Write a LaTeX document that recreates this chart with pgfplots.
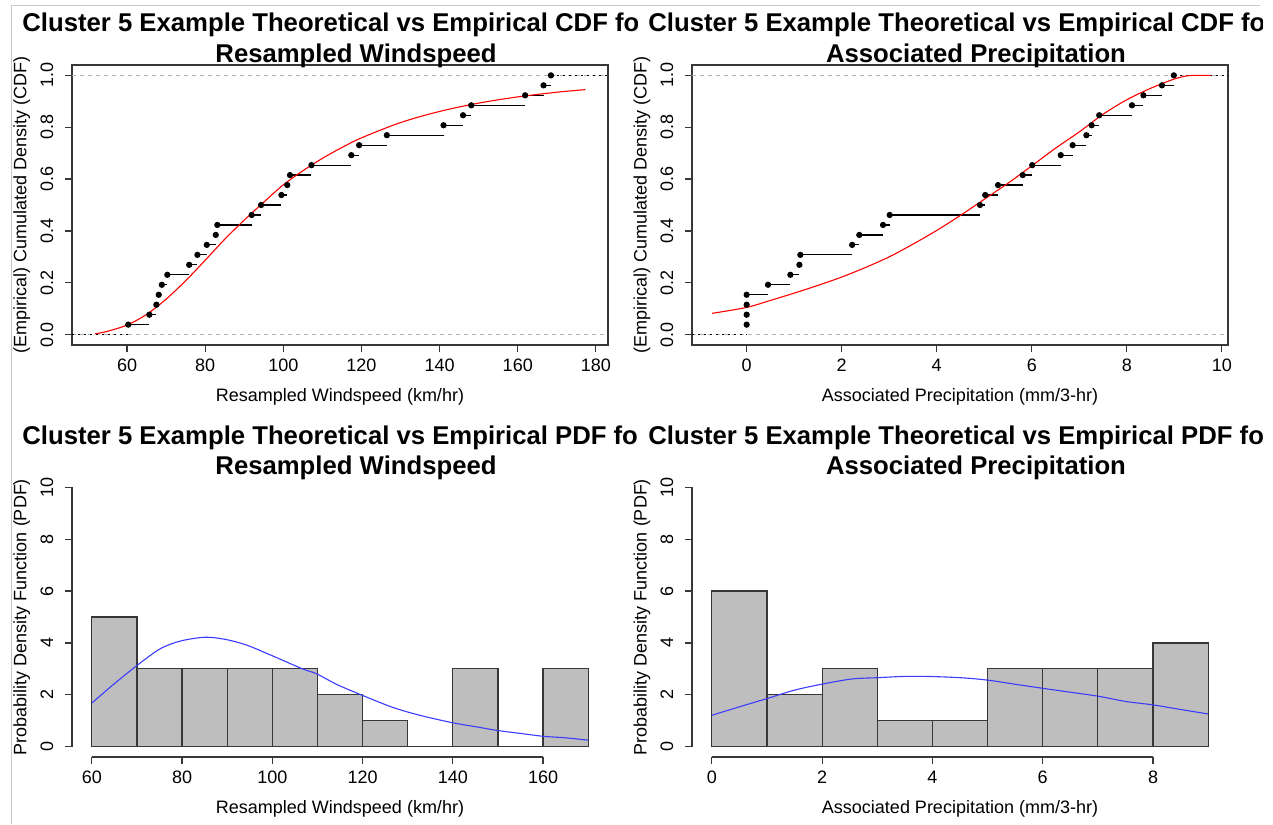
\documentclass[border=0pt]{standalone}
\usepackage{fontspec}
\setmainfont{Liberation Sans}
\usepackage{pgfplots}
\pgfplotsset{compat=1.18}

\definecolor{boxgray}{RGB}{55,55,55}
\definecolor{refline}{RGB}{179,179,179}
\definecolor{histfill}{RGB}{190,190,190}
\definecolor{framegray}{RGB}{200,200,200}
\definecolor{fitblue}{RGB}{60,60,255}

\newcommand{\titlefont}{\fontsize{12.85}{15}\selectfont\bfseries}

\pgfplotsset{
  rpanel/.style={
    scale only axis, width=268pt, height=140pt,
    anchor=north west, clip=false,
    tick align=outside, tick pos=left,
    major tick length=3.5pt,
    every tick/.style={boxgray, line width=0.6pt},
    axis line style={boxgray, line width=0.75pt},
    /pgf/number format/assume math mode=true,
    tick label style={font=\fontsize{9}{10}\selectfont},
    label style={font=\fontsize{9}{10}\selectfont},
    xticklabel style={anchor=base, inner sep=0pt, yshift=-9.9pt},
    yticklabel style={xshift=-5.9pt, rotate=90, anchor=base, inner sep=0pt},
    xlabel style={at={(axis description cs:0.5,-0.2)}, anchor=base, inner sep=0pt},
    ylabel style={at={(axis description cs:-0.0849,0.5)}, anchor=base, inner sep=0pt},
  },
  cdfpanel/.style={
    rpanel, ymin=-0.04, ymax=1.04,
    ytick={0,0.2,0.4,0.6,0.8,1.0},
    yticklabel style={/pgf/number format/fixed, /pgf/number format/fixed zerofill, /pgf/number format/precision=1},
    ylabel={(Empirical) Cumulated Density (CDF)},
  },
  histpanel/.style={
    rpanel, ymin=-0.4, ymax=10.4,
    ytick={0,2,4,6,8,10},
    axis line style={draw=none},
    ylabel={Probability Density Function (PDF)},
  },
  ecdfstep/.style={black, line width=0.6pt, jump mark left, mark=*, mark size=1.25pt, mark options={solid, fill=black}},
  tail/.style={black, line width=0.6pt, dash pattern=on 1pt off 2pt},
  hline/.style={refline, line width=0.5pt, dash pattern=on 2pt off 2pt},
  bars/.style={ybar interval, fill=histfill, draw=boxgray, line width=0.6pt},
}

% empirical CDF steps
\pgfplotstableread{
x y
60.3 0.0385
65.7 0.0769
67.5 0.1154
68.1 0.1538
68.9 0.1923
70.3 0.2308
75.9 0.2692
78.0 0.3077
80.4 0.3462
82.7 0.3846
83.1 0.4231
91.9 0.4615
94.3 0.5000
99.5 0.5385
101.0 0.5769
101.7 0.6154
107.2 0.6538
117.4 0.6923
119.4 0.7308
126.5 0.7692
141.0 0.8077
146.0 0.8462
148.1 0.8846
161.9 0.9231
166.6 0.9615
168.5 1.0000
}\windecdf

\pgfplotstableread{
x y
0 0.0385
0 0.0769
0 0.1154
0 0.1538
0.45 0.1923
0.92 0.2308
1.11 0.2692
1.13 0.3077
2.22 0.3462
2.37 0.3846
2.87 0.4231
3.01 0.4615
4.91 0.5000
5.02 0.5385
5.29 0.5769
5.81 0.6154
6.01 0.6538
6.61 0.6923
6.86 0.7308
7.15 0.7692
7.26 0.8077
7.42 0.8462
8.11 0.8846
8.35 0.9231
8.74 0.9615
8.99 1.0000
}\prececdf

% fitted CDF curves
\pgfplotstableread{
x y
51.8 0.003
55 0.013
60 0.037
65 0.078
70 0.137
75 0.208
80 0.287
85 0.368
90 0.442
95 0.511
100 0.578
105 0.632
110 0.680
115 0.722
120 0.759
130 0.818
140 0.861
150 0.893
160 0.917
170 0.935
177.3 0.945
}\wincdf

\pgfplotstableread{
x y
-0.73 0.082
0 0.105
0.5 0.132
1.0 0.160
1.5 0.190
2.0 0.222
2.5 0.259
3.0 0.300
3.5 0.349
4.0 0.402
4.5 0.460
5.0 0.522
5.5 0.584
6.0 0.651
6.5 0.719
7.0 0.782
7.5 0.850
8.0 0.906
8.5 0.950
9.0 0.986
9.3 0.999
9.5 1.000
9.77 1.000
}\preccdf

% fitted densities, on the count scale
\pgfplotstableread{
x y
60 1.68
64.45 2.35
70 3.13
75.2 3.78
79.8 4.08
85.2 4.22
89.8 4.13
94.4 3.91
99.8 3.52
106.7 3.00
109.8 2.81
114.4 2.39
119.8 1.99
125.8 1.57
129.7 1.35
134.3 1.14
140 0.92
145 0.77
150 0.62
155 0.51
160 0.40
165 0.34
170 0.25
}\winpdf

\pgfplotstableread{
x y
0 1.21
0.52 1.55
1.01 1.86
1.50 2.18
2.02 2.42
2.54 2.61
3.0 2.66
3.52 2.71
4.05 2.70
4.57 2.65
5.02 2.56
5.55 2.39
6.0 2.25
6.53 2.09
7.02 1.94
7.51 1.74
8.0 1.61
8.48 1.44
9.0 1.26
}\precpdf

\begin{document}
\begin{tikzpicture}
\useasboundingbox (0,0) rectangle (636.5pt,-412pt);
\fill[white] (0,0) rectangle (636.5pt,-412pt);
\draw[framegray, line width=0.5pt] (5.75pt,-412pt) -- (5.75pt,-3pt) -- (630pt,-3pt);

% ---- top left: windspeed CDF
\begin{axis}[cdfpanel, at={(36pt,-32.5pt)},
  xmin=45.9, xmax=183.1, xtick={60,80,...,180},
  xlabel={Resampled Windspeed (km/hr)}]
\addplot[hline] coordinates {(45.9,0) (183.1,0)};
\addplot[hline] coordinates {(45.9,1) (183.1,1)};
\addplot[tail] coordinates {(45.9,0) (60.3,0)};
\addplot[tail] coordinates {(168.5,1) (183.1,1)};
\addplot[ecdfstep] table {\windecdf};
\addplot[red, line width=0.55pt, smooth] table {\wincdf};
\end{axis}

% ---- top right: precipitation CDF
\begin{axis}[cdfpanel, at={(346pt,-32.5pt)},
  xmin=-1.15, xmax=10.13, xtick={0,2,...,10},
  xlabel={Associated Precipitation (mm/3-hr)}]
\addplot[hline] coordinates {(-1.15,0) (10.13,0)};
\addplot[hline] coordinates {(-1.15,1) (10.13,1)};
\addplot[tail] coordinates {(-1.15,0) (0,0)};
\addplot[tail] coordinates {(8.99,1) (10.13,1)};
\addplot[ecdfstep] table {\prececdf};
\addplot[red, line width=0.55pt, smooth] table {\preccdf};
\end{axis}

% ---- bottom left: windspeed histogram
\begin{axis}[histpanel, at={(36pt,-238.5pt)},
  xmin=55.6, xmax=174.4, xtick={60,80,...,160},
  xlabel={Resampled Windspeed (km/hr)}]
\addplot[bars] coordinates {(60,5) (70,3) (80,3) (90,3) (100,3) (110,2) (120,1) (130,0) (140,3) (150,0) (160,3) (170,0)};
\addplot[fitblue, line width=0.55pt, smooth] table {\winpdf};
\draw[boxgray, line width=0.75pt] (axis cs:60,-0.4) -- (axis cs:160,-0.4);
\draw[boxgray, line width=0.75pt] (axis cs:55.6,0) -- (axis cs:55.6,10);
\end{axis}

% ---- bottom right: precipitation histogram
\begin{axis}[histpanel, at={(346pt,-238.5pt)},
  xmin=-0.36, xmax=9.36, xtick={0,2,...,8},
  xlabel={Associated Precipitation (mm/3-hr)}]
\addplot[bars] coordinates {(0,6) (1,2) (2,3) (3,1) (4,1) (5,3) (6,3) (7,3) (8,4) (9,0)};
\addplot[fitblue, line width=0.55pt, smooth] table {\precpdf};
\draw[boxgray, line width=0.75pt] (axis cs:0,-0.4) -- (axis cs:8,-0.4);
\draw[boxgray, line width=0.75pt] (axis cs:-0.36,0) -- (axis cs:-0.36,10);
\end{axis}

% ---- panel titles, cut at each panel's edge
\begin{scope}
\clip (0,0) rectangle (318.5pt,-412pt);
\node[font=\titlefont, anchor=base west, inner sep=0pt] at (11pt,-16pt) {Cluster 5 Example Theoretical vs Empirical CDF for};
\node[font=\titlefont, anchor=base, inner sep=0pt] at (178pt,-31.25pt) {Resampled Windspeed};
\node[font=\titlefont, anchor=base west, inner sep=0pt] at (11pt,-222pt) {Cluster 5 Example Theoretical vs Empirical PDF for};
\node[font=\titlefont, anchor=base, inner sep=0pt] at (178pt,-237.25pt) {Resampled Windspeed};
\end{scope}
\begin{scope}
\clip (318.5pt,0) rectangle (631pt,-412pt);
\node[font=\titlefont, anchor=base west, inner sep=0pt] at (324pt,-16pt) {Cluster 5 Example Theoretical vs Empirical CDF for};
\node[font=\titlefont, anchor=base, inner sep=0pt] at (488pt,-31.25pt) {Associated Precipitation};
\node[font=\titlefont, anchor=base west, inner sep=0pt] at (324pt,-222pt) {Cluster 5 Example Theoretical vs Empirical PDF for};
\node[font=\titlefont, anchor=base, inner sep=0pt] at (488pt,-237.25pt) {Associated Precipitation};
\end{scope}
\end{tikzpicture}
\end{document}
